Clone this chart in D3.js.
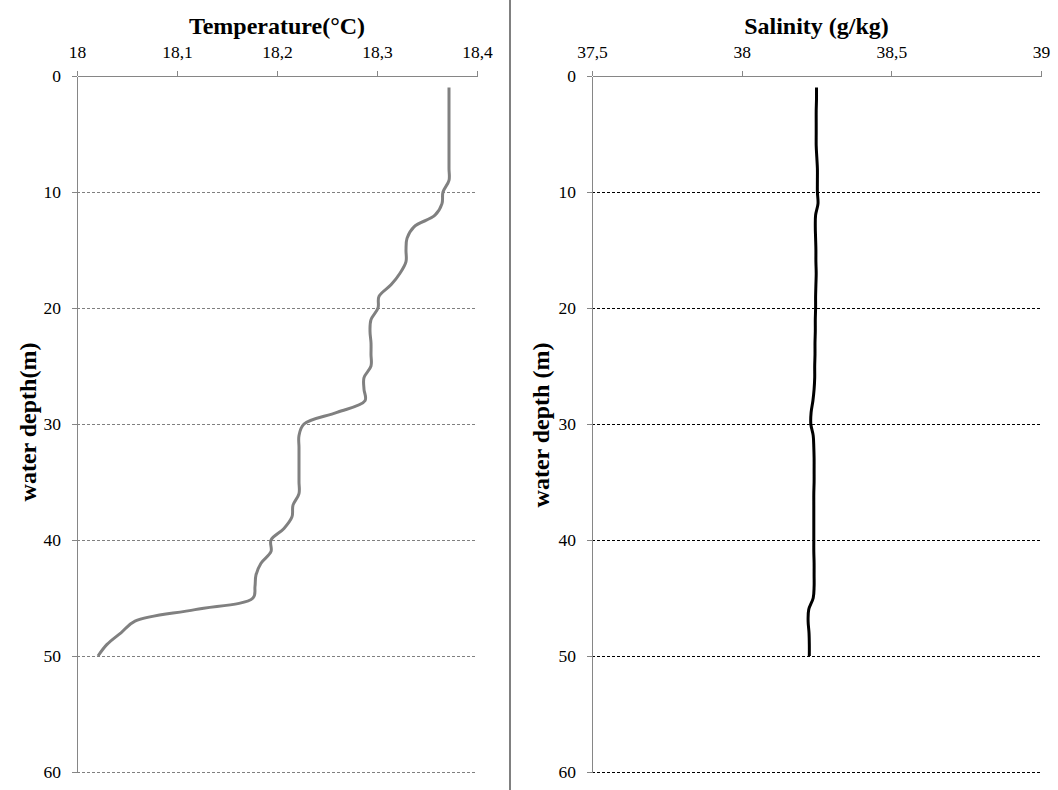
<!DOCTYPE html>
<html>
<head>
<meta charset="utf-8">
<script src="https://cdn.jsdelivr.net/npm/d3@7/dist/d3.min.js"></script>
<style>
body { margin: 0; background: #fff; }
svg { display: block; }
svg text { font-family: "Liberation Serif", "DejaVu Serif", serif; }
</style>
</head>
<body>
<svg id="chart" width="1058" height="790"></svg>
<script>
// ---- data ----
const depths = [1,2,3,4,5,6,7,8,9,10,11,12,13,14,15,16,17,18,19,20,21,22,23,24,25,26,27,28,29,30,31,32,33,34,35,36,37,38,39,40,41,42,43,44,45,46,47,48,49,50];
const temperature = [18.372,18.372,18.372,18.372,18.372,18.372,18.372,18.372,18.372,18.366,18.365,18.358,18.337,18.330,18.329,18.329,18.323,18.314,18.302,18.301,18.294,18.293,18.294,18.294,18.294,18.287,18.287,18.288,18.260,18.227,18.222,18.222,18.222,18.222,18.222,18.222,18.216,18.215,18.207,18.194,18.194,18.184,18.179,18.178,18.176,18.118,18.058,18.044,18.030,18.021];
const salinity = [38.250,38.250,38.249,38.249,38.249,38.249,38.251,38.253,38.253,38.253,38.255,38.247,38.246,38.247,38.248,38.248,38.249,38.248,38.247,38.247,38.246,38.246,38.245,38.245,38.244,38.244,38.242,38.238,38.232,38.231,38.239,38.241,38.242,38.242,38.242,38.241,38.241,38.241,38.241,38.241,38.241,38.242,38.242,38.242,38.239,38.224,38.222,38.225,38.226,38.226];
const depthTicks = [0,10,20,30,40,50,60];
const tempTicks = [18,18.1,18.2,18.3,18.4];
const salTicks = [37.5,38,38.5,39];
const tempTitle = "Temperature(°C)";
const salTitle = "Salinity (g/kg)";
const leftYTitle = "water depth(m)";
const rightYTitle = "water depth (m)";

// ---- drawing ----
const svg = d3.select("#chart");
const fmt = d => String(d).replace(".", ",");
const FONT = "Liberation Serif";
const AXIS = "#868686";

// divider
svg.append("line").attr("x1",510).attr("x2",510).attr("y1",0).attr("y2",790)
  .attr("stroke","#808080").attr("stroke-width",2);

function panel(opts) {
  const x = d3.scaleLinear().domain(opts.xDomain).range([opts.x0, opts.x1]);
  const y = d3.scaleLinear().domain([0,60]).range([76, 772]);
  const g = svg.append("g");

  // gridlines
  g.selectAll("line.grid").data(depthTicks.filter(d => d > 0)).join("line")
    .attr("x1", opts.x0).attr("x2", opts.x1)
    .attr("y1", d => y(d)).attr("y2", d => y(d))
    .attr("stroke", opts.gridColor).attr("stroke-width",1)
    .attr("stroke-dasharray","3,2").attr("shape-rendering","crispEdges");

  // top x-axis
  const xa = g.append("g").attr("transform", `translate(0,${y(0)})`)
    .call(d3.axisTop(x).tickValues(opts.xTicks).tickFormat(fmt).tickSize(5).tickSizeOuter(0).tickPadding(13));
  // left y-axis
  const ya = g.append("g").attr("transform", `translate(${opts.x0},0)`)
    .call(d3.axisLeft(y).tickValues(depthTicks).tickSize(5).tickSizeOuter(0).tickPadding(11));
  [xa, ya].forEach(a => {
    a.attr("font-family", FONT).attr("font-size", 17.5);
    a.select(".domain").attr("stroke", AXIS).attr("shape-rendering","crispEdges");
    a.selectAll(".tick line").attr("stroke", AXIS).attr("shape-rendering","crispEdges");
    a.selectAll("text").attr("font-family", FONT).attr("font-size", 17.5).attr("fill","#000");
  });

  // curve
  const line = d3.line()
    .x((d,i) => x(opts.values[i]))
    .y(d => y(d))
    .curve(d3.curveCatmullRom.alpha(0.5));
  g.append("path").datum(depths)
    .attr("d", line).attr("fill","none")
    .attr("stroke", opts.lineColor).attr("stroke-width", 3)
    .attr("stroke-linejoin","round");

  // titles
  g.append("text").attr("x", (opts.x0 + opts.x1)/2).attr("y", 34)
    .attr("text-anchor","middle").attr("font-family", FONT)
    .attr("font-weight","bold").attr("font-size", 24).text(opts.title);
  g.append("text")
    .attr("transform", `translate(${opts.yTitleX},${opts.yTitleY}) rotate(-90)`)
    .attr("text-anchor","middle").attr("font-family", FONT)
    .attr("font-weight","bold").attr("font-size", 24).text(opts.yTitle);
}

panel({ xDomain:[18,18.4], x0:77, x1:477, xTicks: tempTicks, values: temperature,
        gridColor:"#808080", lineColor:"#808080", title: tempTitle,
        yTitle: leftYTitle, yTitleX: 36, yTitleY: 422 });
panel({ xDomain:[37.5,39], x0:592, x1:1041, xTicks: salTicks, values: salinity,
        gridColor:"#000000", lineColor:"#000000", title: salTitle,
        yTitle: rightYTitle, yTitleX: 549, yTitleY: 425 });
</script>
</body>
</html>
